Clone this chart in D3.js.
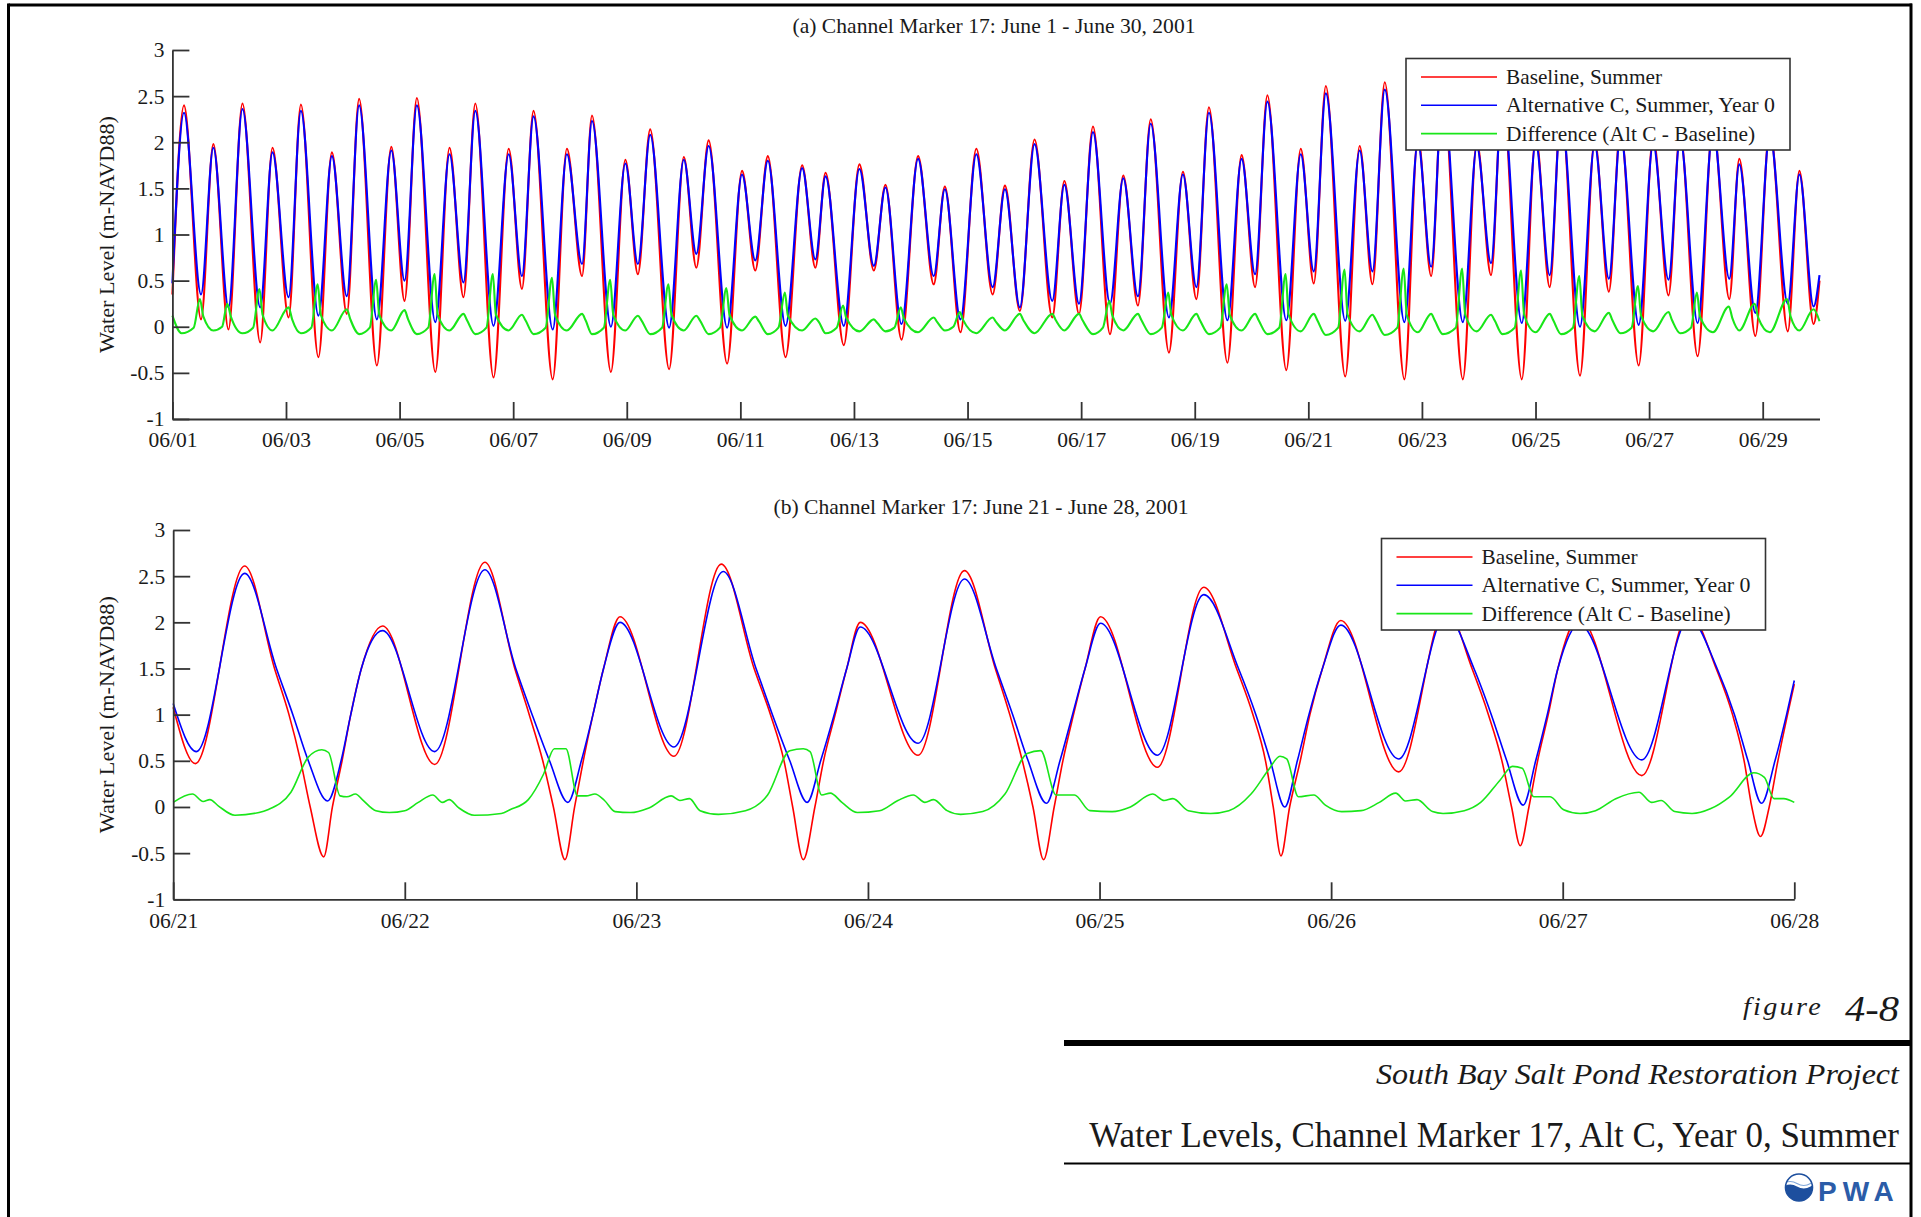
<!DOCTYPE html>
<html>
<head>
<meta charset="utf-8">
<title>Water Levels, Channel Marker 17, Alt C, Year 0, Summer</title>
<script src="https://cdn.jsdelivr.net/npm/d3@7"></script>
<style>
  html, body { margin: 0; padding: 0; background: #ffffff; }
  svg { display: block; }
  .serif { font-family: "Liberation Serif", "Times New Roman", serif; fill: #1a1a1a; }
</style>
</head>
<body>
<svg id="fig" width="1921" height="1217"></svg>
<script>
// ---------------------------------------------------------------------------
// Tide series at Channel Marker 17 (m NAVD88). Times are hours from the start
// of each plotted window; values are the turning points of each tide plus a
// few points along the steep limbs.
// ---------------------------------------------------------------------------

// Panel (a): June 1 00:00 - June 30 00:00, 2001
const monthHours = [0.0, 4.9, 12.1, 17.3, 23.7, 29.6, 37.1, 42.3, 49.1, 54.3,
  61.7, 67.4, 73.7, 78.9, 86.4, 92.5, 98.1, 103.3, 111.1, 117.1,
  123.0, 128.0, 135.7, 142.1, 147.7, 152.6, 160.7, 166.7, 173.1, 177.3,
  185.3, 191.4, 196.7, 201.9, 209.9, 216.1, 221.4, 226.6, 234.4, 240.7,
  246.3, 251.6, 259.1, 266.1, 271.7, 276.0, 283.7, 290.3, 296.4, 301.3,
  308.1, 315.1, 321.7, 326.4, 333.0, 339.7, 346.6, 351.8, 358.1, 364.3,
  371.8, 376.9, 383.1, 389.0, 396.2, 401.8, 408.0, 413.4, 421.1, 427.0,
  432.7, 438.0, 445.8, 451.8, 457.5, 462.7, 470.7, 476.8, 482.3, 487.4,
  495.6, 501.7, 507.1, 512.3, 520.6, 526.3, 531.9, 536.8, 545.3, 551.2,
  557.2, 562.0, 570.2, 576.1, 582.0, 586.8, 594.8, 601.0, 607.0, 611.9,
  619.6, 625.7, 632.2, 637.1, 644.5, 651.0, 657.9, 662.1, 668.9, 675.0,
  682.6, 687.5, 693.5, 696.0];

const monthBaseline = [0.35, 2.40, 0.08, 1.98, -0.03, 2.42, -0.17, 1.94, 0.10, 2.41,
  -0.33, 1.89, 0.14, 2.47, -0.42, 1.95, 0.28, 2.48, -0.49, 1.94,
  0.32, 2.42, -0.55, 1.93, 0.41, 2.34, -0.57, 1.93, 0.55, 2.29,
  -0.49, 1.81, 0.57, 2.14, -0.46, 1.84, 0.64, 2.02, -0.40, 1.69,
  0.61, 1.85, -0.33, 1.75, 0.64, 1.67, -0.20, 1.76, 0.61, 1.54,
  -0.14, 1.85, 0.46, 1.52, -0.06, 1.93, 0.35, 1.53, 0.17, 2.03,
  0.10, 1.58, 0.14, 2.17, -0.08, 1.64, 0.23, 2.25, -0.28, 1.68,
  0.30, 2.38, -0.39, 1.86, 0.43, 2.51, -0.47, 1.93, 0.47, 2.61,
  -0.54, 1.96, 0.46, 2.65, -0.57, 2.06, 0.55, 2.63, -0.57, 2.00,
  0.56, 2.56, -0.57, 2.06, 0.43, 2.38, -0.53, 2.02, 0.38, 2.15,
  -0.42, 2.05, 0.34, 2.10, -0.32, 2.20, 0.30, 1.82, -0.10, 2.15,
  -0.05, 1.69, 0.03, 0.50];

const monthAltC = [0.47, 2.32, 0.35, 1.94, 0.21, 2.36, 0.21, 1.89, 0.32, 2.34,
  0.12, 1.85, 0.33, 2.40, 0.08, 1.91, 0.50, 2.40, 0.05, 1.87,
  0.48, 2.34, 0.01, 1.87, 0.55, 2.28, -0.03, 1.87, 0.68, 2.23,
  0.00, 1.77, 0.68, 2.08, -0.01, 1.81, 0.79, 1.96, -0.01, 1.65,
  0.72, 1.80, 0.01, 1.72, 0.73, 1.63, 0.01, 1.71, 0.66, 1.51,
  0.03, 1.82, 0.55, 1.49, 0.08, 1.87, 0.43, 1.49, 0.21, 1.98,
  0.28, 1.54, 0.25, 2.11, 0.25, 1.61, 0.33, 2.20, 0.10, 1.65,
  0.43, 2.32, 0.07, 1.82, 0.57, 2.44, 0.07, 1.87, 0.60, 2.53,
  0.065, 1.91, 0.60, 2.57, 0.05, 2.00, 0.65, 2.55, 0.05, 1.95,
  0.69, 2.47, 0.04, 1.99, 0.56, 2.30, 0.00, 1.97, 0.52, 2.08,
  0.02, 1.98, 0.51, 2.04, 0.04, 2.14, 0.52, 1.76, 0.15, 2.09,
  0.25, 1.65, 0.22, 0.56];

const monthDiffHours = [0.0, 3.9, 9.0, 11.6, 13.1, 17.3, 21.0, 23.2, 24.7, 29.6,
  34.1, 36.8, 38.1, 42.3, 49.1, 50.6, 54.3, 58.7, 61.4, 62.7,
  67.4, 73.7, 75.2, 78.9, 83.4, 86.1, 87.4, 92.5, 98.1, 99.6,
  103.3, 108.1, 110.8, 112.1, 117.1, 123.0, 124.5, 128.0, 132.7, 135.4,
  136.7, 142.1, 147.7, 149.2, 152.6, 157.7, 160.4, 161.7, 166.7, 173.1,
  174.6, 177.3, 182.3, 185.0, 186.3, 191.4, 196.7, 198.2, 201.9, 206.9,
  209.6, 210.9, 216.1, 221.4, 222.9, 226.6, 231.4, 234.1, 235.4, 240.7,
  246.3, 247.8, 251.6, 256.1, 258.8, 260.1, 266.1, 271.7, 273.2, 276.0,
  280.7, 283.4, 284.7, 290.3, 296.4, 297.9, 301.3, 305.1, 307.8, 309.1,
  315.1, 321.7, 323.2, 326.4, 330.0, 332.7, 334.0, 339.7, 346.6, 348.1,
  351.8, 358.1, 359.6, 364.3, 371.8, 373.3, 376.9, 383.1, 384.6, 389.0,
  393.2, 395.9, 397.2, 401.8, 408.0, 409.5, 413.4, 418.1, 420.8, 422.1,
  427.0, 432.7, 434.2, 438.0, 442.8, 445.5, 446.8, 451.8, 457.5, 459.0,
  462.7, 467.7, 470.4, 471.7, 476.8, 482.3, 483.8, 487.4, 492.6, 495.3,
  496.6, 501.7, 507.1, 508.6, 512.3, 517.6, 520.3, 521.6, 526.3, 531.9,
  533.4, 536.8, 542.3, 545.0, 546.3, 551.2, 557.2, 558.7, 562.0, 567.2,
  569.9, 571.2, 576.1, 582.0, 583.5, 586.8, 591.8, 594.5, 595.8, 601.0,
  607.0, 608.5, 611.9, 616.6, 619.3, 620.6, 625.7, 632.2, 633.7, 637.1,
  641.7, 644.2, 645.5, 651.0, 657.7, 659.2, 662.1, 668.6, 670.1, 675.0,
  682.3, 683.8, 687.5, 693.5, 696.0];

const monthDiff = [0.12, -0.07, -0.01, 0.30, 0.11, -0.04, 0.00, 0.25, 0.11, -0.07,
  -0.01, 0.41, 0.13, -0.04, 0.21, 0.08, -0.07, -0.01, 0.46, 0.13,
  -0.04, 0.19, 0.08, -0.08, -0.01, 0.51, 0.13, -0.04, 0.18, 0.08,
  -0.08, -0.01, 0.57, 0.13, -0.04, 0.14, 0.07, -0.08, -0.01, 0.57,
  0.13, -0.04, 0.13, 0.07, -0.08, -0.01, 0.53, 0.13, -0.04, 0.14,
  0.07, -0.08, -0.01, 0.51, 0.13, -0.04, 0.12, 0.07, -0.08, -0.01,
  0.46, 0.13, -0.04, 0.12, 0.07, -0.08, -0.01, 0.42, 0.13, -0.04,
  0.11, 0.06, -0.08, -0.01, 0.37, 0.12, -0.04, 0.09, 0.05, -0.07,
  -0.01, 0.23, 0.10, -0.05, 0.08, 0.04, -0.05, -0.01, 0.21, 0.09,
  -0.06, 0.10, 0.05, -0.04, 0.00, 0.16, 0.08, -0.07, 0.10, 0.05,
  -0.04, 0.14, 0.07, -0.07, 0.14, 0.07, -0.04, 0.14, 0.07, -0.08,
  -0.01, 0.28, 0.12, -0.04, 0.14, 0.07, -0.08, -0.01, 0.37, 0.13,
  -0.04, 0.14, 0.07, -0.08, -0.01, 0.46, 0.13, -0.04, 0.14, 0.07,
  -0.08, -0.01, 0.57, 0.13, -0.05, 0.14, 0.07, -0.09, -0.01, 0.62,
  0.13, -0.05, 0.13, 0.07, -0.09, -0.01, 0.63, 0.13, -0.06, 0.14,
  0.07, -0.08, -0.01, 0.63, 0.13, -0.05, 0.13, 0.07, -0.08, -0.01,
  0.61, 0.13, -0.06, 0.14, 0.07, -0.08, -0.01, 0.55, 0.12, -0.05,
  0.15, 0.07, -0.07, -0.01, 0.44, 0.12, -0.05, 0.16, 0.07, -0.07,
  -0.01, 0.37, 0.11, -0.06, 0.22, 0.09, -0.04, 0.25, 0.10, -0.06,
  0.30, 0.11, -0.04, 0.19, 0.06];

const monthTickDays = [0, 2, 4, 6, 8, 10, 12, 14, 16, 18, 20, 22, 24, 26, 28];
const monthTickLabels = ["06/01", "06/03", "06/05", "06/07", "06/09", "06/11", "06/13",
  "06/15", "06/17", "06/19", "06/21", "06/23", "06/25", "06/27", "06/29"];

// Panel (b): June 21 00:00 - June 28 00:00, 2001
const weekBaseHours = [0.0, 2.3, 7.4, 10.5, 12.0, 13.2, 14.2, 15.6, 16.5, 17.5,
  18.4, 19.5, 21.7, 27.1, 32.3, 35.4, 36.9, 38.3, 39.4, 40.6,
  41.6, 42.5, 43.5, 44.6, 46.3, 51.9, 56.8, 60.2, 61.9, 63.3,
  64.2, 65.3, 66.5, 67.4, 68.6, 69.8, 71.2, 77.2, 82.0, 85.2,
  86.7, 88.0, 89.1, 90.2, 91.3, 92.2, 93.3, 94.5, 96.1, 102.0,
  106.8, 110.2, 111.9, 113.2, 114.0, 114.8, 115.7, 116.8, 117.8, 119.1,
  121.0, 127.0, 131.9, 134.6, 136.3, 137.7, 138.7, 139.6, 140.5, 141.4,
  142.5, 143.5, 145.7, 152.2, 157.1, 159.9, 161.6, 162.8, 163.6, 164.5,
  165.4, 166.3, 167.3, 168.0];

const weekBaseline = [1.08, 0.47, 2.61, 1.50, 1.00, 0.50, 0.00, -0.54, 0.00, 0.50,
  1.00, 1.50, 1.96, 0.46, 2.65, 1.50, 1.00, 0.50, 0.00, -0.57,
  0.00, 0.50, 1.00, 1.50, 2.06, 0.55, 2.63, 1.50, 1.00, 0.50,
  0.00, -0.57, 0.00, 0.50, 1.00, 1.50, 2.00, 0.56, 2.56, 1.50,
  1.00, 0.50, 0.00, -0.57, 0.00, 0.50, 1.00, 1.50, 2.06, 0.43,
  2.38, 1.50, 1.00, 0.50, 0.00, -0.53, 0.00, 0.50, 1.00, 1.50,
  2.02, 0.38, 2.15, 1.50, 1.00, 0.50, 0.00, -0.42, 0.00, 0.50,
  1.00, 1.50, 2.05, 0.34, 2.10, 1.50, 1.00, 0.50, 0.00, -0.32,
  0.00, 0.50, 1.00, 1.33];

const weekAltHours = [0.0, 2.4, 7.4, 10.7, 12.4, 14.0, 16.0, 17.4, 18.4, 19.5,
  21.7, 27.1, 32.3, 35.5, 37.2, 39.0, 40.9, 42.3, 43.5, 44.6,
  46.3, 51.9, 57.0, 60.4, 62.1, 63.9, 65.7, 67.1, 68.5, 69.8,
  71.2, 77.2, 82.0, 85.3, 87.0, 88.6, 90.5, 91.9, 93.2, 94.5,
  96.1, 102.0, 106.8, 110.4, 112.2, 113.7, 115.2, 116.5, 117.7, 119.1,
  121.0, 127.0, 131.9, 134.8, 136.6, 138.2, 139.9, 141.2, 142.4, 143.5,
  145.7, 152.2, 157.1, 160.0, 161.8, 163.2, 164.6, 166.0, 167.2, 168.0];

const weekAltC = [1.12, 0.60, 2.53, 1.50, 1.00, 0.50, 0.065, 0.50, 1.00, 1.50,
  1.91, 0.60, 2.57, 1.50, 1.00, 0.50, 0.05, 0.50, 1.00, 1.50,
  2.00, 0.65, 2.55, 1.50, 1.00, 0.50, 0.05, 0.50, 1.00, 1.50,
  1.95, 0.69, 2.47, 1.50, 1.00, 0.50, 0.04, 0.50, 1.00, 1.50,
  1.99, 0.56, 2.30, 1.50, 1.00, 0.50, 0.00, 0.50, 1.00, 1.50,
  1.97, 0.52, 2.08, 1.50, 1.00, 0.50, 0.02, 0.50, 1.00, 1.50,
  1.98, 0.51, 2.04, 1.50, 1.00, 0.50, 0.04, 0.50, 1.00, 1.37];

const weekDiffHours = [0.0, 2.0, 3.1, 3.8, 4.7, 6.4, 8.9, 9.8, 12.2, 14.0,
  15.4, 16.1, 17.3, 18.0, 18.9, 19.6, 21.0, 22.4, 24.0, 25.4,
  26.9, 27.9, 28.6, 29.6, 31.2, 34.0, 34.9, 36.8, 38.4, 39.5,
  40.7, 41.9, 42.8, 43.7, 44.7, 45.8, 47.4, 49.3, 51.6, 52.5,
  53.5, 54.6, 56.5, 59.3, 61.6, 63.9, 65.3, 66.0, 67.2, 68.1,
  69.3, 70.9, 73.2, 75.1, 76.7, 77.9, 78.8, 80.2, 81.6, 83.9,
  86.2, 88.5, 89.9, 91.5, 93.4, 95.0, 97.3, 99.2, 101.5, 102.7,
  103.6, 105.2, 107.5, 109.4, 111.7, 113.5, 114.7, 115.4, 116.6, 118.2,
  119.4, 121.1, 123.1, 125.0, 126.7, 127.7, 128.9, 130.5, 131.6, 133.8,
  135.5, 137.5, 138.8, 139.8, 141.0, 142.7, 144.1, 145.8, 147.4, 149.5,
  151.9, 153.2, 154.2, 155.6, 157.4, 159.3, 161.3, 163.8, 164.9, 165.9,
  166.9, 168.0];

const weekDiff = [0.05, 0.14, 0.06, 0.08, 0.01, -0.09, -0.06, -0.03, 0.16, 0.54,
  0.62, 0.59, 0.12, 0.11, 0.14, 0.08, -0.04, -0.06, -0.04, 0.05,
  0.13, 0.05, 0.08, -0.01, -0.09, -0.07, -0.03, 0.08, 0.36, 0.63,
  0.63, 0.12, 0.12, 0.14, 0.07, -0.05, -0.06, -0.01, 0.12, 0.07,
  0.09, -0.04, -0.08, -0.04, 0.13, 0.61, 0.63, 0.60, 0.13, 0.15,
  0.05, -0.06, -0.04, 0.07, 0.13, 0.05, 0.08, -0.04, -0.08, -0.05,
  0.14, 0.58, 0.61, 0.13, 0.13, -0.04, -0.05, 0.00, 0.14, 0.07,
  0.09, -0.04, -0.07, -0.04, 0.14, 0.40, 0.55, 0.52, 0.11, 0.13,
  0.02, -0.05, -0.04, 0.05, 0.15, 0.065, 0.08, -0.05, -0.07, -0.04,
  0.05, 0.29, 0.44, 0.42, 0.11, 0.11, -0.03, -0.07, -0.04, 0.09,
  0.16, 0.05, 0.07, -0.05, -0.07, -0.02, 0.11, 0.37, 0.32, 0.09,
  0.09, 0.05];

const weekTickDays = [0, 1, 2, 3, 4, 5, 6, 7];
const weekTickLabels = ["06/21", "06/22", "06/23", "06/24", "06/25", "06/26", "06/27", "06/28"];

const levelTicks = [-1, -0.5, 0, 0.5, 1, 1.5, 2, 2.5, 3];
const seriesNames = ["Baseline, Summer", "Alternative C, Summer, Year 0", "Difference (Alt C - Baseline)"];
const seriesColors = ["#ff0000", "#0000ff", "#19e619"];

// ---------------------------------------------------------------------------
const svg = d3.select("#fig");
const AXIS_COLOR = "#333333";
const LABEL_SIZE = 21.5;
// rendered widths of the legend entries
const legendTextWidths = [156, 269, 249];

function drawPanel(cfg) {
  const x = d3.scaleLinear().domain([0, cfg.hours]).range([cfg.left, cfg.right]);
  const y = d3.scaleLinear().domain([-1, 3]).range([cfg.bottom, cfg.top]);
  const g = svg.append("g");

  const line = d3.line()
    .x(d => x(d[0]))
    .y(d => y(d[1]))
    .curve(d3.curveMonotoneX);

  cfg.series.forEach((s, i) => {
    g.append("path")
      .datum(d3.zip(s.hours, s.values))
      .attr("fill", "none")
      .attr("stroke", seriesColors[i])
      .attr("stroke-width", cfg.lineWidth)
      .attr("stroke-linejoin", "round")
      .attr("d", line);
  });

  // y axis (ticks point into the plot)
  const yAxis = d3.axisLeft(y)
    .tickValues(levelTicks)
    .tickFormat(d => String(d))
    .tickSize(-17)
    .tickSizeOuter(0)
    .tickPadding(8);
  const gy = g.append("g").attr("transform", `translate(${cfg.left},0)`).call(yAxis);

  // x axis
  const xAxis = d3.axisBottom(x)
    .tickValues(cfg.tickDays.map(d => d * 24))
    .tickFormat((d, i) => cfg.tickLabels[i])
    .tickSize(-17)
    .tickSizeOuter(0)
    .tickPadding(13);
  const gx = g.append("g").attr("transform", `translate(0,${cfg.bottom})`).call(xAxis);

  [gx, gy].forEach(a => {
    a.attr("font-family", null).attr("font-size", null);
    a.select(".domain").attr("stroke", AXIS_COLOR).attr("stroke-width", 1.8);
    a.selectAll(".tick line").attr("stroke", AXIS_COLOR).attr("stroke-width", 1.8);
    a.selectAll(".tick text").attr("class", "serif").style("font-size", LABEL_SIZE + "px");
  });

  // axis title
  g.append("text")
    .attr("class", "serif")
    .attr("transform", `translate(${cfg.yLabelX},${(cfg.top + cfg.bottom) / 2}) rotate(-90)`)
    .attr("text-anchor", "middle")
    .attr("dominant-baseline", "central")
    .attr("textLength", 237)
    .attr("lengthAdjust", "spacingAndGlyphs")
    .style("font-size", "21px")
    .text("Water Level (m-NAVD88)");

  // panel title
  g.append("text")
    .attr("class", "serif")
    .attr("x", cfg.titleX)
    .attr("y", cfg.titleY)
    .attr("text-anchor", "middle")
    .attr("textLength", cfg.titleWidth)
    .attr("lengthAdjust", "spacingAndGlyphs")
    .style("font-size", "21px")
    .text(cfg.title);

  // legend
  const L = cfg.legend;
  const lg = g.append("g");
  lg.append("rect")
    .attr("x", L.x).attr("y", L.y).attr("width", L.w).attr("height", L.h)
    .attr("fill", "#ffffff").attr("stroke", AXIS_COLOR).attr("stroke-width", 1.6);
  seriesNames.forEach((name, i) => {
    const ry = L.y + 18.5 + i * 28.3;
    lg.append("line")
      .attr("x1", L.x + 15).attr("x2", L.x + 91)
      .attr("y1", ry).attr("y2", ry)
      .attr("stroke", seriesColors[i]).attr("stroke-width", 1.6);
    lg.append("text")
      .attr("class", "serif")
      .attr("x", L.x + 100).attr("y", ry)
      .attr("dominant-baseline", "central")
      .attr("textLength", legendTextWidths[i])
      .attr("lengthAdjust", "spacingAndGlyphs")
      .style("font-size", "21px")
      .text(name);
  });
}

drawPanel({
  hours: 696, left: 172.4, right: 1819.5, top: 50, bottom: 419,
  lineWidth: 2.1, yLabelX: 107, titleX: 994, titleY: 33, titleWidth: 403,
  title: "(a) Channel Marker 17: June 1 - June 30, 2001",
  tickDays: monthTickDays, tickLabels: monthTickLabels,
  series: [
    { hours: monthHours, values: monthBaseline },
    { hours: monthHours, values: monthAltC },
    { hours: monthDiffHours, values: monthDiff }
  ],
  legend: { x: 1406, y: 58.5, w: 384, h: 91.5 }
});

drawPanel({
  hours: 168, left: 173.2, right: 1794.3, top: 530, bottom: 899.3,
  lineWidth: 1.6, yLabelX: 107, titleX: 981, titleY: 514, titleWidth: 415,
  title: "(b) Channel Marker 17: June 21 - June 28, 2001",
  tickDays: weekTickDays, tickLabels: weekTickLabels,
  series: [
    { hours: weekBaseHours, values: weekBaseline },
    { hours: weekAltHours, values: weekAltC },
    { hours: weekDiffHours, values: weekDiff }
  ],
  legend: { x: 1381.5, y: 538.5, w: 384, h: 91.5 }
});

// ---------------------------------------------------------------------------
// Page frame and title block
// ---------------------------------------------------------------------------
const frame = svg.append("g").attr("stroke", "#000").attr("fill", "none");
frame.append("line").attr("x1", 8.5).attr("x2", 1912).attr("y1", 5).attr("y2", 5).attr("stroke-width", 3);
frame.append("line").attr("x1", 8.5).attr("x2", 8.5).attr("y1", 3.5).attr("y2", 1217).attr("stroke-width", 3);
frame.append("line").attr("x1", 1911).attr("x2", 1911).attr("y1", 3.5).attr("y2", 1217).attr("stroke-width", 3);
frame.append("line").attr("x1", 1064).attr("x2", 1912).attr("y1", 1043).attr("y2", 1043).attr("stroke-width", 6);
frame.append("line").attr("x1", 1064).attr("x2", 1912).attr("y1", 1163.5).attr("y2", 1163.5).attr("stroke-width", 2);

svg.append("text")
  .attr("class", "serif")
  .attr("x", 1743).attr("y", 1015)
  .attr("textLength", 80)
  .attr("lengthAdjust", "spacingAndGlyphs")
  .style("font-style", "italic")
  .style("font-size", "25px")
  .style("letter-spacing", "2px")
  .text("figure");

svg.append("text")
  .attr("class", "serif")
  .attr("x", 1845).attr("y", 1021)
  .attr("textLength", 54)
  .attr("lengthAdjust", "spacingAndGlyphs")
  .style("font-style", "italic")
  .style("font-size", "35px")
  .text("4-8");

svg.append("text")
  .attr("class", "serif")
  .attr("x", 1376).attr("y", 1084)
  .attr("textLength", 523)
  .attr("lengthAdjust", "spacingAndGlyphs")
  .style("font-style", "italic")
  .style("font-size", "30px")
  .text("South Bay Salt Pond Restoration Project");

svg.append("text")
  .attr("class", "serif")
  .attr("x", 1899).attr("y", 1146.5)
  .attr("text-anchor", "end")
  .style("font-size", "35px")
  .text("Water Levels, Channel Marker 17, Alt C, Year 0, Summer");

// PWA mark
const logo = svg.append("g");
const cx = 1799, cy = 1187.5, r = 13.5;
logo.append("clipPath").attr("id", "logoClip")
  .append("circle").attr("cx", cx).attr("cy", cy).attr("r", r);
logo.append("path")
  .attr("clip-path", "url(#logoClip)")
  .attr("fill", "#1d4f9e")
  .attr("d", `M${cx - r - 2},${cy - 1} q${r / 2},-4 ${r},0 t${r},0 t${r},0 V${cy + r + 2} H${cx - r - 2} Z`);
logo.append("path")
  .attr("clip-path", "url(#logoClip)")
  .attr("fill", "none").attr("stroke", "#7fa6d9").attr("stroke-width", 1.2)
  .attr("d", `M${cx - r - 2},${cy - 4} q${r / 2},-4 ${r},0 t${r},0 t${r},0`);
logo.append("circle").attr("cx", cx).attr("cy", cy).attr("r", r)
  .attr("fill", "none").attr("stroke", "#1d4f9e").attr("stroke-width", 1.6);
logo.append("text")
  .attr("x", 1818).attr("y", 1201)
  .style("font-family", "'Liberation Sans', Arial, sans-serif")
  .style("font-weight", "bold")
  .style("font-size", "28px")
  .style("letter-spacing", "6px")
  .style("fill", "#2b5ca8")
  .text("PWA");
</script>
</body>
</html>
